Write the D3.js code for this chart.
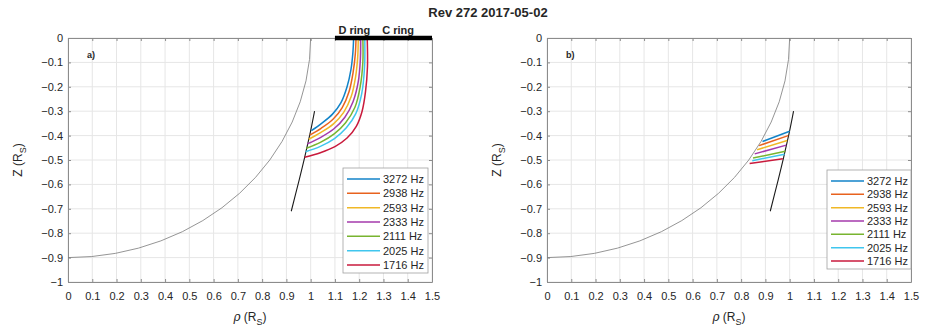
<!DOCTYPE html>
<html>
<head>
<meta charset="utf-8"/>
<title>Rev 272 2017-05-02</title>
<style>
  body { margin: 0; background: #fff; }
  text { font-family: "Liberation Sans", Arial, sans-serif; fill: #262626; }
  .grid line { stroke: #e6e6e6; stroke-width: 1; }
  .tick-lbl { font-size: 11px; }
</style>
</head>
<body>
<svg width="927" height="330"></svg>
<script src="https://d3js.org/d3.v7.min.js"></script>
<script>
// frequencies shown in the legends
var freqs = ["3272 Hz", "2938 Hz", "2593 Hz", "2333 Hz", "2111 Hz", "2025 Hz", "1716 Hz"];
var colors = ["#1283c8", "#e8621e", "#f0b826", "#a43aab", "#78b42f", "#40c6ee", "#c91a3c"];

var xTicks = d3.range(0, 16).map(d => d / 10);
var yTicks = d3.range(-10, 1).map(d => d / 10);

// planet outline (equatorial / polar radius, R_S)
var planetEq = 1.0, planetPolar = 0.9;

// spacecraft trajectory [rho, Z]
var traj = [[1.016, -0.30], [1.00, -0.38], [0.975, -0.49], [0.953, -0.58], [0.92, -0.71]];

// rings along Z = 0
var rings = [{name: "D ring", from: 1.1, to: 1.5, label: 1.18}, {name: "C ring", label: 1.36}];

// panel a) field lines from trajectory to ring plane [rho, Z]
var linesA = [
  [[1.003, -0.380], [1.045, -0.350], [1.090, -0.312], [1.125, -0.265], [1.150, -0.20], [1.166, -0.13], [1.174, -0.06], [1.177, 0]],
  [[0.996, -0.398], [1.043, -0.370], [1.092, -0.333], [1.130, -0.285], [1.158, -0.22], [1.175, -0.14], [1.184, -0.065], [1.187, 0]],
  [[0.992, -0.415], [1.041, -0.388], [1.094, -0.352], [1.136, -0.305], [1.167, -0.24], [1.185, -0.16], [1.194, -0.075], [1.196, 0]],
  [[0.986, -0.434], [1.040, -0.408], [1.096, -0.372], [1.141, -0.325], [1.175, -0.26], [1.196, -0.18], [1.205, -0.085], [1.206, 0]],
  [[0.982, -0.452], [1.040, -0.428], [1.097, -0.393], [1.144, -0.347], [1.182, -0.285], [1.204, -0.20], [1.215, -0.10], [1.215, 0]],
  [[0.979, -0.466], [1.040, -0.444], [1.098, -0.412], [1.147, -0.368], [1.186, -0.31], [1.210, -0.23], [1.222, -0.12], [1.223, 0]],
  [[0.975, -0.489], [1.040, -0.470], [1.100, -0.445], [1.150, -0.410], [1.188, -0.362], [1.212, -0.30], [1.226, -0.22], [1.234, -0.12], [1.233, 0]]
];

// panel b) segments from trajectory down to the planet [rho, Z]
var linesB = [
  [[1.000, -0.382], [0.888, -0.424]],
  [[0.994, -0.400], [0.874, -0.441]],
  [[0.990, -0.420], [0.866, -0.458]],
  [[0.986, -0.439], [0.856, -0.475]],
  [[0.982, -0.464], [0.849, -0.492]],
  [[0.979, -0.476], [0.846, -0.503]],
  [[0.972, -0.495], [0.835, -0.514]]
];

var svg = d3.select("svg");

svg.append("text")
  .attr("x", 488).attr("y", 17)
  .attr("text-anchor", "middle")
  .style("font-size", "13px").style("font-weight", "bold")
  .text("Rev 272 2017-05-02");

function panel(left, tag, curves, legendBox, showRings, curve) {
  var x = d3.scaleLinear().domain([0, 1.5]).range([left, left + 364]);
  var y = d3.scaleLinear().domain([-1, 0]).range([282, 38]);
  var g = svg.append("g");
  var clipId = "clip" + tag;
  g.append("clipPath").attr("id", clipId)
    .append("rect").attr("x", x(0)).attr("y", y(0)).attr("width", x(1.5) - x(0)).attr("height", y(-1) - y(0));

  // grid
  var grid = g.append("g").attr("class", "grid");
  grid.selectAll(".gx").data(xTicks).enter().append("line")
    .attr("x1", d => x(d)).attr("x2", d => x(d)).attr("y1", y(0)).attr("y2", y(-1));
  grid.selectAll(".gy").data(yTicks).enter().append("line")
    .attr("y1", d => y(d)).attr("y2", d => y(d)).attr("x1", x(0)).attr("x2", x(1.5));

  // axes, ticks pointing in, box on
  var xb = g.append("g").attr("transform", "translate(0," + y(-1) + ")")
    .call(d3.axisBottom(x).tickValues(xTicks).tickSizeInner(-3).tickSizeOuter(0).tickPadding(10).tickFormat(d3.format("")));
  var yl = g.append("g").attr("transform", "translate(" + x(0) + ",0)")
    .call(d3.axisLeft(y).tickValues(yTicks).tickSizeInner(-3).tickSizeOuter(0).tickPadding(5).tickFormat(d3.format("")));
  var xt = g.append("g").attr("transform", "translate(0," + y(0) + ")")
    .call(d3.axisTop(x).tickValues(xTicks).tickSizeInner(-3).tickSizeOuter(0).tickFormat(""));
  var yr = g.append("g").attr("transform", "translate(" + x(1.5) + ",0)")
    .call(d3.axisRight(y).tickValues(yTicks).tickSizeInner(-3).tickSizeOuter(0).tickFormat(""));
  [xb, yl, xt, yr].forEach(function(a) {
    a.select(".domain").attr("stroke", "#8c8c8c");
    a.selectAll(".tick line").attr("stroke", "#8c8c8c");
    a.selectAll(".tick text").attr("class", "tick-lbl").attr("fill", "#262626")
      .style("font-family", "'Liberation Sans', Arial, sans-serif");
  });

  // axis titles
  var xl = g.append("text").attr("x", (x(0) + x(1.5)) / 2).attr("y", 321)
    .attr("text-anchor", "middle").style("font-size", "12px");
  xl.append("tspan").style("font-family", "'DejaVu Serif', serif").style("font-style", "italic").text("\u03c1");
  xl.append("tspan").text(" (R");
  xl.append("tspan").attr("dy", 4).style("font-size", "9px").text("S");
  xl.append("tspan").attr("dy", -4).text(")");

  var ylab = g.append("text").attr("transform", "translate(" + (left - 46) + "," + ((y(0) + y(-1)) / 2) + ") rotate(-90)")
    .attr("text-anchor", "middle").style("font-size", "12px");
  ylab.append("tspan").text("Z (R");
  ylab.append("tspan").attr("dy", 4).style("font-size", "9px").text("S");
  ylab.append("tspan").attr("dy", -4).text(")");

  var plot = g.append("g").attr("clip-path", "url(#" + clipId + ")");

  // planet
  plot.append("ellipse")
    .attr("cx", x(0)).attr("cy", y(0))
    .attr("rx", x(planetEq) - x(0)).attr("ry", y(-planetPolar) - y(0))
    .attr("fill", "none").attr("stroke", "#7a7a7a").attr("stroke-width", 0.8);

  // trajectory
  plot.append("path").datum(traj)
    .attr("d", d3.line().x(d => x(d[0])).y(d => y(d[1])).curve(d3.curveCatmullRom))
    .attr("fill", "none").attr("stroke", "#1a1a1a").attr("stroke-width", 1.1);

  // field lines
  var line = d3.line().x(d => x(d[0])).y(d => y(d[1])).curve(curve);
  plot.selectAll(".fl").data(curves).enter().append("path")
    .attr("d", line)
    .attr("fill", "none")
    .attr("stroke", (d, i) => colors[i])
    .attr("stroke-width", 1.5);

  if (showRings) {
    g.append("line")
      .attr("x1", x(rings[0].from)).attr("x2", x(rings[0].to))
      .attr("y1", y(0)).attr("y2", y(0))
      .attr("stroke", "#000").attr("stroke-width", 4.5);
    rings.forEach(function(r) {
      g.append("text").attr("x", x(r.label)).attr("y", y(0) - 4)
        .attr("text-anchor", "middle").style("font-size", "11px").style("font-weight", "bold")
        .attr("fill", "#000").text(r.name);
    });
  }

  g.append("text").attr("x", x(0) + 19).attr("y", y(-0.08))
    .style("font-size", "9px").style("font-weight", "bold").attr("fill", "#000").text(tag + ")");

  // legend
  var lg = g.append("g");
  lg.append("rect").attr("x", legendBox.x).attr("y", legendBox.y)
    .attr("width", legendBox.w).attr("height", legendBox.h)
    .attr("fill", "#fff").attr("stroke", "#a0a0a0").attr("stroke-width", 0.8);
  var row = d3.scaleLinear().domain([0, freqs.length - 1]).range([legendBox.y + 11, legendBox.y + legendBox.h - 8]);
  freqs.forEach(function(f, i) {
    lg.append("line")
      .attr("x1", legendBox.x + 4).attr("x2", legendBox.x + 37)
      .attr("y1", row(i)).attr("y2", row(i))
      .attr("stroke", colors[i]).attr("stroke-width", 1.5);
    lg.append("text").attr("x", legendBox.x + 40).attr("y", row(i) + 4)
      .style("font-size", "11px").text(f);
  });
}

panel(68, "a", linesA, {x: 343, y: 168, w: 85, h: 105}, true, d3.curveCatmullRom);
panel(547, "b", linesB, {x: 827, y: 170, w: 84, h: 99}, false, d3.curveLinear);
</script>
</body>
</html>
